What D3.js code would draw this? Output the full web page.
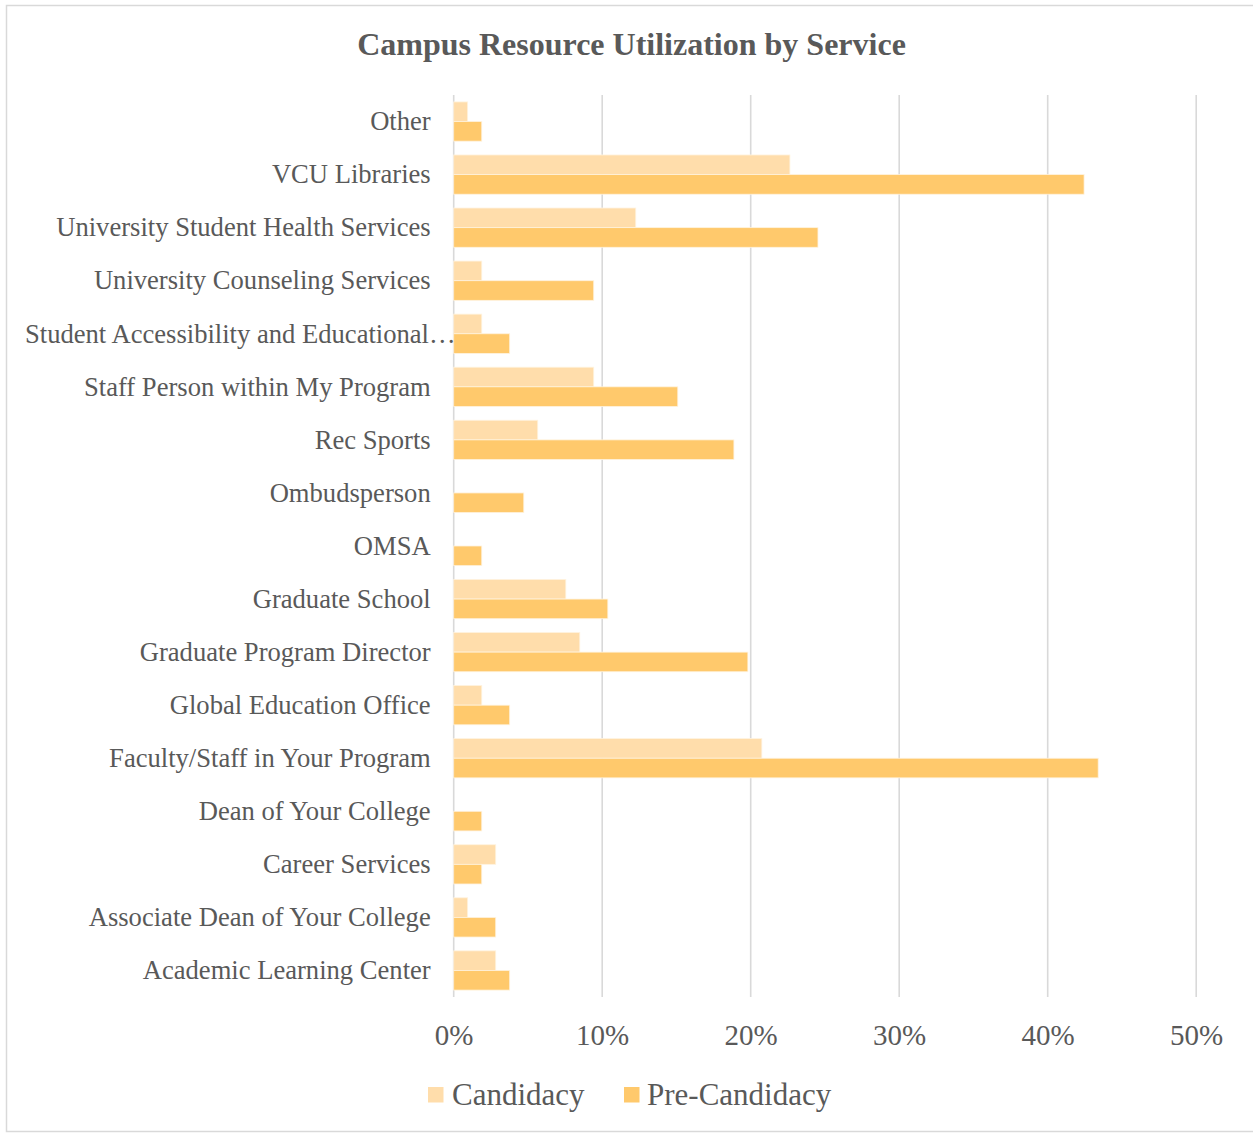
<!DOCTYPE html>
<html>
<head>
<meta charset="utf-8">
<script src="https://cdn.jsdelivr.net/npm/d3@7"></script>
<style>
  html, body { margin: 0; padding: 0; background: #fff; }
  svg { display: block; }
  text { font-family: "Liberation Serif", "Times New Roman", serif; fill: #595959; }
</style>
</head>
<body>
<svg id="chart" width="1253" height="1133"></svg>
<script>
// Services, listed top to bottom as drawn
const categories = [
  "Other",
  "VCU Libraries",
  "University Student Health Services",
  "University Counseling Services",
  "Student Accessibility and Educational…",
  "Staff Person within My Program",
  "Rec Sports",
  "Ombudsperson",
  "OMSA",
  "Graduate School",
  "Graduate Program Director",
  "Global Education Office",
  "Faculty/Staff in Your Program",
  "Dean of Your College",
  "Career Services",
  "Associate Dean of Your College",
  "Academic Learning Center"
];

// Share of respondents using each service (%)
const candidacy = [0.94, 22.64, 12.26, 1.89, 1.89, 9.43, 5.66, 0, 0, 7.55, 8.49, 1.89, 20.75, 0, 2.83, 0.94, 2.83];
const preCandidacy = [1.89, 42.45, 24.53, 9.43, 3.77, 15.09, 18.87, 4.72, 1.89, 10.38, 19.81, 3.77, 43.40, 1.89, 1.89, 2.83, 3.77];

const seriesNames = ["Candidacy", "Pre-Candidacy"];
const seriesColors = ["#FFDDAB", "#FFC96C"];
const tickValues = [0, 10, 20, 30, 40, 50];
const chartTitle = "Campus Resource Utilization by Service";

const svg = d3.select("#chart");
const W = 1253, H = 1133;

// chart area frame
svg.append("rect")
  .attr("x", 6.5).attr("y", 5.5)
  .attr("width", W + 10).attr("height", H - 7)
  .attr("fill", "#fff")
  .attr("stroke", "#D9D9D9")
  .attr("stroke-width", 1.5);

const plot = { left: 453.7, right: 1196.2, top: 95, bottom: 997 };

const x = d3.scaleLinear().domain([0, 50]).range([plot.left, plot.right]);
const y = d3.scaleBand()
  .domain(categories)
  .range([plot.top, plot.bottom])
  .paddingInner(0.26)
  .paddingOuter(0.13);
const ySub = d3.scaleBand().domain(seriesNames).range([0, y.bandwidth()]);
const color = d3.scaleOrdinal().domain(seriesNames).range(seriesColors);

// title
svg.append("text")
  .attr("x", 631.5).attr("y", 55)
  .attr("text-anchor", "middle")
  .style("font-size", "32px")
  .style("font-weight", "bold")
  .text(chartTitle);

// vertical gridlines
svg.append("g")
  .selectAll("line")
  .data(tickValues)
  .join("line")
  .attr("x1", d => x(d)).attr("x2", d => x(d))
  .attr("y1", plot.top).attr("y2", plot.bottom)
  .attr("stroke", "#D9D9D9")
  .attr("stroke-width", 1.6);

// x axis tick labels
const xAxis = d3.axisBottom(x)
  .tickValues(tickValues)
  .tickFormat(d => d + "%")
  .tickSize(0)
  .tickPadding(0);
const gx = svg.append("g")
  .attr("transform", `translate(0, ${plot.bottom + 27})`)
  .call(xAxis);
gx.select(".domain").remove();
gx.selectAll("text")
  .attr("dy", "0.71em")
  .style("font-size", "29px")
  .style("fill", "#595959");

// bars
const rows = categories.map((c, i) => ({
  category: c,
  values: [
    { series: seriesNames[0], value: candidacy[i] },
    { series: seriesNames[1], value: preCandidacy[i] }
  ]
}));

const groups = svg.append("g")
  .selectAll("g")
  .data(rows)
  .join("g")
  .attr("transform", d => `translate(0, ${y(d.category)})`);

groups.selectAll("rect")
  .data(d => d.values.filter(v => v.value > 0))
  .join("rect")
  .attr("x", x(0))
  .attr("y", d => ySub(d.series))
  .attr("width", d => x(d.value) - x(0))
  .attr("height", ySub.bandwidth())
  .attr("fill", d => color(d.series))
  .attr("stroke", "#FFF3DF")
  .attr("stroke-width", 0.8);

// category labels
const labels = svg.append("g")
  .selectAll("text")
  .data(categories)
  .join("text")
  .attr("x", 430.7)
  .attr("y", d => y(d) + y.bandwidth() / 2)
  .attr("dy", "0.33em")
  .attr("text-anchor", "end")
  .style("font-size", "26.6px")
  .text(d => d);

// labels too long for the gutter start at the left margin instead
labels.each(function () {
  const len = this.getComputedTextLength();
  if (430.7 - len < 25) {
    d3.select(this).attr("x", 25).attr("text-anchor", "start");
  }
});

// legend
const legend = svg.append("g");
const legendItems = [
  { name: seriesNames[0], sx: 428, tx: 452 },
  { name: seriesNames[1], sx: 624, tx: 647 }
];
legend.selectAll("rect")
  .data(legendItems)
  .join("rect")
  .attr("x", d => d.sx).attr("y", 1087)
  .attr("width", 15.5).attr("height", 15.5)
  .attr("fill", d => color(d.name));
legend.selectAll("text")
  .data(legendItems)
  .join("text")
  .attr("x", d => d.tx).attr("y", 1105)
  .style("font-size", "31px")
  .text(d => d.name);
</script>
</body>
</html>
